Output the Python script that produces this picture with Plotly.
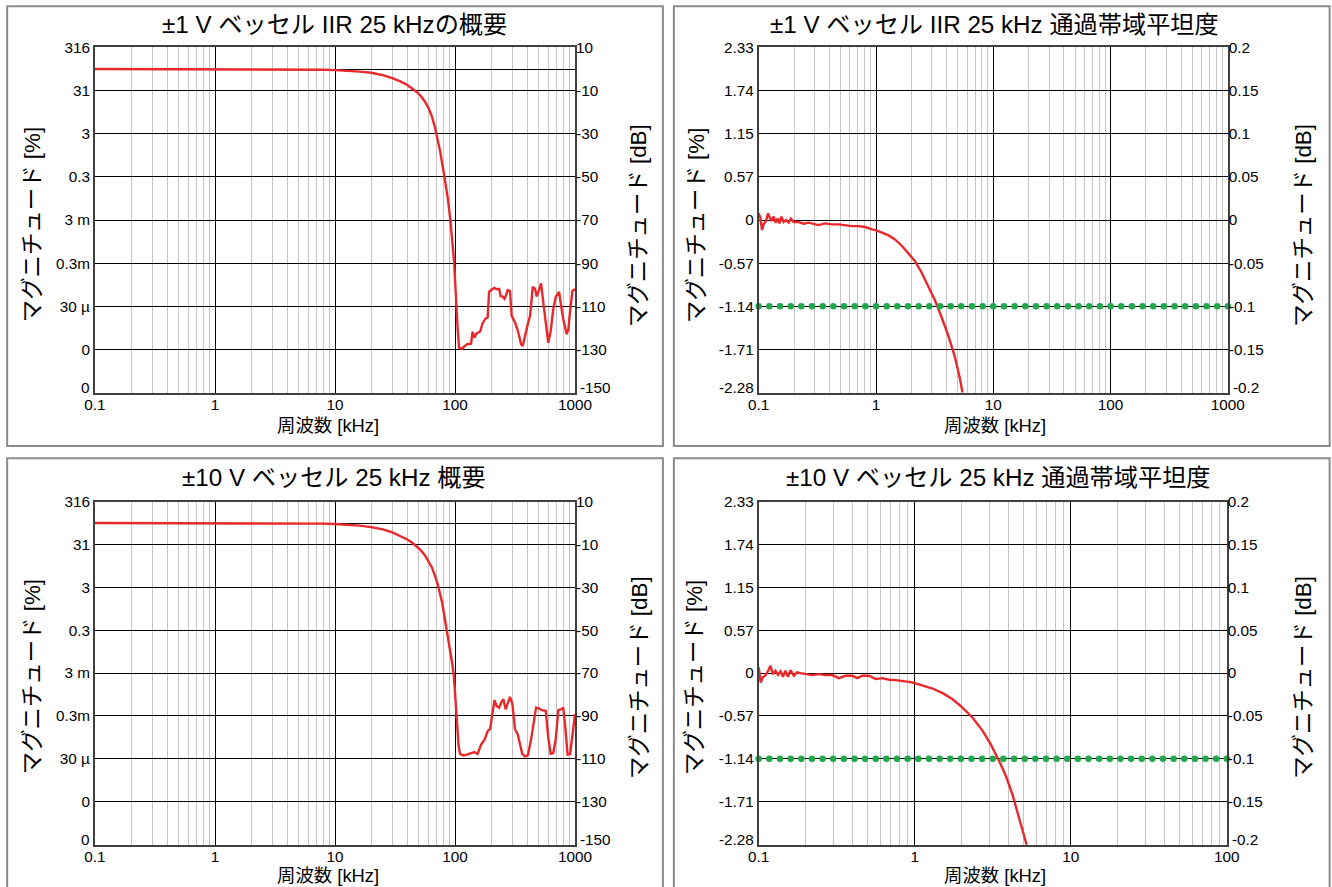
import numpy as np
import plotly.graph_objects as go

# Calibration: the photographed page keeps the browser's 8 px body margin and is
# shrunk by a factor S, so the figure is laid out in "page" pixels = ref / S - 8.
S = 0.981
OFF = 8
W, H = 1342, 888
FONT = "Liberation Sans, Arial, 'Noto Sans CJK JP', sans-serif"
RED = "#e8282b"
GREEN = "#22a84a"

# ---------------- data ----------------
# Overview, ±1 V Bessel IIR 25 kHz : frequency [kHz], magnitude [dB]
ov1_freq = [0.1, 1, 4, 6, 8, 10, 13, 16, 20, 25, 30, 35, 40, 44, 48, 52, 56, 60, 64, 68, 75, 81.6, 87,
            91.4, 95, 98.4, 100.5, 102, 105, 108, 113.6, 125, 136, 140, 145, 151, 162, 169, 178,
            187, 192, 202, 213, 222, 233, 240, 249, 258, 264, 275, 287, 296, 316, 333, 341,
            355, 366, 383, 404, 422, 435, 444, 464, 479, 501, 521, 545, 570, 598, 627, 658,
            690, 736, 764, 797, 851, 880, 909, 951, 1000]
ov1_db = [0, 0, -0.05, -0.15, -0.3, -0.5, -0.8, -1.2, -1.7, -2.8, -4.2, -5.7, -7.4, -8.9, -10.6, -12.6, -15.0, -18.0, -21.8, -27, -38, -50, -60,
          -70, -80, -90, -100, -110, -120, -129.2, -129.7, -127.6, -127.3, -121.8, -124.5, -122.6, -121.7, -118.2, -115.9,
          -115.1, -103.3, -102.2, -101.5, -102.1, -101.9, -105.4, -105.4, -106.5, -105.4, -102.5, -102.9, -114.3, -117.5, -121.1, -123.7,
          -127.6, -128.4, -122.9, -118.2, -114.3, -107.3, -101.0, -101.8, -105.4, -102.5, -99.4, -108.8, -118.2, -126.9, -121.4, -111.2,
          -105.7, -103.3, -109.6, -115.9, -122.9, -120.6, -112.0, -102.9, -102]

# Overview, ±10 V Bessel 25 kHz
ov10_freq = [0.1, 1, 4, 6, 8, 10, 13, 16, 20, 25, 30, 35, 40, 44, 48, 52, 56, 60, 64, 68, 72, 78, 82,
             86, 91, 95, 98, 101, 104, 107, 110, 117, 125, 138, 145, 154, 165, 176, 187,
             196, 202, 213, 222, 233, 242, 253, 264, 275, 287, 300, 316, 333, 348, 363, 383,
             404, 430, 450, 473, 501, 527, 570, 598, 627, 658, 690, 725, 764, 797, 825, 866,
             909, 951, 992, 1000]
ov10_db = [0, 0, -0.05, -0.15, -0.3, -0.5, -0.8, -1.2, -1.9, -3.0, -4.4, -6.0, -7.7, -9.2, -10.9, -12.8, -15.0, -17.6, -20.6, -24.5, -29, -37, -44,
           -51, -59, -66, -72, -84, -96, -104, -107.7, -108.4, -108.0, -107.3, -106.8, -107.7, -103.3, -101.0, -97.1,
           -96.0, -91.6, -82.6, -85.3, -86.1, -83.7, -82.2, -86.9, -84.5, -81.1, -84.2, -96.3, -98.6, -103.3, -107.7, -108.8,
           -108.4, -101.0, -93.9, -86.1, -86.4, -87.3, -87.6, -100.2, -107.6, -107.3, -101.0, -87.3, -86.9, -86.1, -93.9, -108.0,
           -107.7, -98.6, -89.5, -89]

# Passband flatness, ±1 V Bessel IIR 25 kHz
fl1_freq = [0.1, 0.1033, 0.1067, 0.110, 0.1154, 0.12, 0.123, 0.128, 0.134, 0.139, 0.145, 0.150, 0.156, 0.163,
            0.171, 0.180, 0.188, 0.198, 0.218, 0.241, 0.266, 0.293, 0.323, 0.368, 0.420, 0.478, 0.546, 0.621,
            0.707, 0.812, 0.925, 1.0, 1.125, 1.28, 1.45, 1.65, 1.87, 2.15, 2.44, 2.78, 3.16, 3.6, 4.11, 4.69,
            5.18, 5.55]
fl1_db = [0.0078, 0.0027, -0.0116, -0.005, -0.001, 0.0078, 0.004, -0.001, 0.004, -0.003, 0.0016, -0.0039, 0.004, -0.0023,
          0.0, -0.003, 0.0016, -0.0023, -0.0023, -0.0043, -0.003, -0.0043, -0.0058, -0.0039, -0.005, -0.005, -0.0062, -0.007,
          -0.007, -0.0081, -0.0109, -0.012, -0.0147, -0.0178, -0.0225, -0.0295, -0.038, -0.0477, -0.0605, -0.0767, -0.0922, -0.1116, -0.133, -0.158,
          -0.183, -0.205]

# Passband flatness, ±10 V Bessel 25 kHz
fl10_freq = [0.1, 0.103, 0.106, 0.110, 0.115, 0.119, 0.123, 0.128, 0.133, 0.138, 0.143, 0.148, 0.154, 0.160,
             0.168, 0.176, 0.185, 0.199, 0.220, 0.243, 0.268, 0.296, 0.326, 0.360, 0.398, 0.428, 0.461, 0.509,
             0.562, 0.620, 0.684, 0.754, 0.833, 0.918, 1.0, 1.12, 1.30, 1.51, 1.75, 2.02, 2.35, 2.73,
             3.07, 3.48, 3.84, 4.23, 4.66, 5.01, 5.3]
fl10_db = [0.0066, -0.011, -0.005, -0.003, 0.0027, 0.0086, -0.0012, 0.0027, -0.002, 0.002, -0.0043, 0.0027, -0.0043, 0.0035,
           -0.003, 0.0008, 0.0, -0.0012, -0.0023, -0.0012, -0.0023, -0.0023, -0.0059, -0.0031, -0.0031, -0.0059, -0.0031, -0.0031,
           -0.007, -0.0059, -0.0078, -0.0082, -0.009, -0.0102, -0.0117, -0.0141, -0.018, -0.0234, -0.0305, -0.0402, -0.052, -0.0676,
           -0.0832, -0.1027, -0.120, -0.1418, -0.169, -0.1926, -0.205]

flat_limit_db = -0.1

# axis ticks (the bottom-most label of each y axis is drawn separately, slightly raised)
ov_ticks_db = [10, 0, -10, -30, -50, -70, -90, -110, -130, -150]
ov_ticks_pct = ["316", "", "31", "3", "0.3", "3 m", "0.3m", "30 µ", "0", "0"]
ov_ticks_right = ["10", "", "-10", "-30", "-50", "-70", "-90", "-110", "-130", "-150"]
fl_ticks_db = [0.2, 0.15, 0.1, 0.05, 0, -0.05, -0.1, -0.15, -0.2]
fl_ticks_pct = ["2.33", "1.74", "1.15", "0.57", "0", "-0.57", "-1.14", "-1.71", "-2.28"]
fl_ticks_right = ["0.2", "0.15", "0.1", "0.05", "0", "-0.05", "-0.1", "-0.15", "-0.2"]

titles = ["±1 V ベッセル IIR 25 kHzの概要", "±1 V ベッセル IIR 25 kHz 通過帯域平坦度",
          "±10 V ベッセル 25 kHz 概要", "±10 V ベッセル 25 kHz 通過帯域平坦度"]
x_title = "周波数 [kHz]"
yl_title = "マグニチュード [%]"
yr_title = "マグニチュード [dB]"

# ---------------- layout (pixel geometry, in reference pixels) ----------------
panels = [
    dict(px=(92, 573), py=(46, 388), xr=(0.1, 1000), kind="ov", f=ov1_freq, d=ov1_db,
         title_xy=(332, 23), xt_xy=(325, 421), yl_xy=(29, 222), yr_xy=(636, 222)),
    dict(px=(757, 1227), py=(46, 388), xr=(0.1, 1000), kind="fl", f=fl1_freq, d=fl1_db,
         title_xy=(993, 23), xt_xy=(994, 421), yl_xy=(694, 222), yr_xy=(1302, 222)),
    dict(px=(92, 573), py=(496, 836), xr=(0.1, 1000), kind="ov", f=ov10_freq, d=ov10_db,
         title_xy=(331, 472), xt_xy=(325, 867), yl_xy=(29, 670), yr_xy=(637, 670)),
    dict(px=(757, 1226), py=(496, 836), xr=(0.1, 100), kind="fl", f=fl10_freq, d=fl10_db,
         title_xy=(997, 472), xt_xy=(994, 867), yl_xy=(692, 670), yr_xy=(1302, 670)),
]
frames = [(4, 5, 661, 441), (672, 5, 1329, 441), (4, 453, 661, 900), (672, 453, 1329, 900)]

TICK = 15.3
TITLE = 24.2
XTITLE = 18.4
YTITLE = 22.4


def px2x(v):
    return (v / S - OFF) / W


def px2y(v):
    return 1 - (v / S - OFF) / H


fig = go.Figure()
layout = dict(width=W, height=H, margin=dict(l=0, r=0, t=0, b=0),
              paper_bgcolor="white", plot_bgcolor="white", showlegend=False,
              font=dict(family=FONT, size=TICK, color="black"))
annotations = []
shapes = []


def label(text, x, y, xanchor, size=TICK, angle=0, yanchor="middle"):
    annotations.append(dict(text=text, x=px2x(x), y=px2y(y), xref="paper", yref="paper",
                            showarrow=False, xanchor=xanchor, yanchor=yanchor, textangle=angle,
                            font=dict(size=size, family=FONT, color="black")))


for i, p in enumerate(panels, start=1):
    xa = "xaxis" if i == 1 else f"xaxis{i}"
    xr_ = "x" if i == 1 else f"x{i}"
    ya = "yaxis" if i == 1 else f"yaxis{i}"
    yr_ = "y" if i == 1 else f"y{i}"
    ya2 = f"yaxis{i + 4}"
    yr2 = f"y{i + 4}"

    lo, hi = np.log10(p["xr"][0]), np.log10(p["xr"][1])
    decades = [10.0 ** k for k in range(int(round(lo)), int(round(hi)) + 1)]
    dec_text = [("%g" % v) for v in decades]
    minor = [m * 10.0 ** k for k in range(int(round(lo)), int(round(hi))) for m in range(2, 10)]

    layout[xa] = dict(type="log", range=[lo, hi], domain=[px2x(p["px"][0]), px2x(p["px"][1])],
                      anchor=yr_, tickmode="array", tickvals=decades, ticktext=dec_text,
                      showgrid=True, gridcolor="black", gridwidth=1,
                      minor=dict(tickmode="array", tickvals=minor, showgrid=True,
                                 gridcolor="#c4c4c4", gridwidth=1, ticks=""),
                      showline=True, mirror=True, linecolor="#404040", linewidth=2,
                      ticks="", ticklen=0, ticklabelstandoff=-3, zeroline=False,
                      tickfont=dict(size=TICK))
    if p["kind"] == "ov":
        yrange = [-150, 10]
        tv, tl, tr = ov_ticks_db, ov_ticks_pct, ov_ticks_right
    else:
        yrange = [-0.20005, 0.20005]
        tv, tl, tr = fl_ticks_db, fl_ticks_pct, fl_ticks_right
    ydom = [px2y(p["py"][1]), px2y(p["py"][0])]
    layout[ya] = dict(range=yrange, domain=ydom, anchor=xr_, tickmode="array",
                      tickvals=tv, ticktext=tl[:-1] + [""], showgrid=True, gridcolor="black",
                      gridwidth=1, showline=True, mirror=True, linecolor="#404040", linewidth=2,
                      ticks="", ticklen=0, zeroline=False, tickfont=dict(size=TICK))
    layout[ya2] = dict(range=yrange, overlaying=yr_, side="right", anchor=xr_,
                       tickmode="array", tickvals=tv, ticktext=tr[:-1] + [""], showgrid=False,
                       showline=False, ticks="", ticklen=0, zeroline=False,
                       tickfont=dict(size=TICK))
    # bottom-most y labels, nudged up off the x tick labels
    label(tl[-1], p["px"][0] - 3, p["py"][1] - 5, "right")
    label(tr[-1], p["px"][1] + 3, p["py"][1] - 5, "left")

    if p["kind"] == "fl":
        # dotted green limit line at -0.1 dB
        dots = 10 ** np.linspace(lo, hi, 45)
        fig.add_trace(go.Scatter(x=dots, y=[flat_limit_db] * len(dots), mode="markers",
                                 marker=dict(color=GREEN, size=6.6, line=dict(width=0)),
                                 xaxis=xr_, yaxis=yr2, hoverinfo="skip", cliponaxis=False))
    else:
        fig.add_trace(go.Scatter(x=p["f"], y=p["d"], mode="lines", line=dict(width=0),
                                 opacity=0, xaxis=xr_, yaxis=yr2, hoverinfo="skip"))
    fig.add_trace(go.Scatter(x=p["f"], y=p["d"], mode="lines",
                             line=dict(color=RED, width=2.4), xaxis=xr_, yaxis=yr_,
                             hoverinfo="skip"))

    label(titles[i - 1], *p["title_xy"], "center", size=TITLE)
    label(x_title, *p["xt_xy"], "center", size=XTITLE)
    label(yl_title, *p["yl_xy"], "center", size=YTITLE, angle=-90)
    label(yr_title, *p["yr_xy"], "center", size=YTITLE, angle=-90)

for (x0, y0, x1, y1) in frames:
    shapes.append(dict(type="rect", xref="paper", yref="paper",
                       x0=px2x(x0), x1=px2x(x1), y0=px2y(y1), y1=px2y(y0),
                       line=dict(color="#8c8c8c", width=2), fillcolor="rgba(0,0,0,0)",
                       layer="below"))

layout["annotations"] = annotations
layout["shapes"] = shapes
fig.update_layout(**layout)
fig.write_html("out.html")
